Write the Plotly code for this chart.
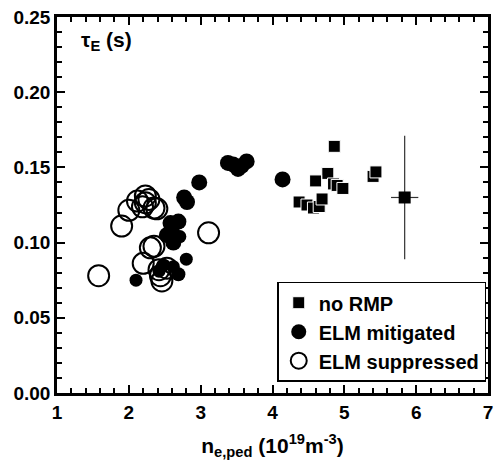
import plotly.graph_objects as go

# no RMP (squares)
sq_x = [4.86, 4.77, 4.60, 4.85, 4.90, 4.98, 4.37, 4.48, 4.57, 4.65, 4.69, 5.40, 5.44]
sq_y = [0.164, 0.146, 0.141, 0.139, 0.138, 0.136, 0.127, 0.125, 0.123, 0.124, 0.129, 0.144, 0.147]
# reference point with error bars
ref_x = [5.84]
ref_y = [0.130]
ref_ex = [0.19]
ref_ey = [0.041]
# ELM mitigated (filled circles)
fc_x = [3.38, 3.45, 3.52, 3.57, 3.64, 4.14, 2.98, 2.77, 2.81, 2.58, 2.69, 2.53, 2.62, 2.71, 2.60,
        2.80, 2.10, 2.69, 2.62, 2.49, 2.42]
fc_y = [0.153, 0.152, 0.149, 0.151, 0.154, 0.142, 0.140, 0.130, 0.127, 0.113, 0.114, 0.105, 0.100, 0.104, 0.110,
        0.089, 0.075, 0.079, 0.084, 0.085, 0.081]
fc_s = [16, 16, 16, 16, 16, 16, 16, 16, 16, 16, 16, 16, 16, 13, 16,
        13, 13, 14, 13, 13, 13]
# ELM suppressed (open circles)
oc_x = [1.58, 1.90, 2.00, 2.12, 2.23, 2.23, 2.28, 2.35, 2.39, 2.19, 2.30, 2.35, 2.20, 2.44, 2.46, 2.42, 2.53, 3.11]
oc_y = [0.078, 0.111, 0.1215, 0.1276, 0.131, 0.1265, 0.1287, 0.123, 0.1225, 0.1238, 0.0965, 0.0975, 0.0862, 0.0780,
        0.0745, 0.082, 0.083, 0.1065]

FONT = "Liberation Sans"

fig = go.Figure()
fig.add_trace(go.Scatter(x=fc_x, y=fc_y, mode="markers", name="ELM mitigated", legendrank=2,
                         legendgroup="b",
                         marker=dict(symbol="circle", size=fc_s, color="black", opacity=1, line=dict(width=0))))
fig.add_trace(go.Scatter(x=oc_x, y=oc_y, mode="markers", name="ELM suppressed", legendrank=3,
                         legendgroup="c",
                         marker=dict(symbol="circle-open", size=21, color="black", opacity=1,
                                     line=dict(width=2, color="black"))))
fig.add_trace(go.Scatter(x=sq_x, y=sq_y, mode="markers", name="no RMP", legendrank=1,
                         legendgroup="a",
                         marker=dict(symbol="square", size=12, color="black", opacity=1,
                                     line=dict(width=1, color="white"))))
fig.add_trace(go.Scatter(x=ref_x, y=ref_y, mode="markers", showlegend=False,
                         marker=dict(symbol="square", size=12, color="black"),
                         error_x=dict(type="data", array=ref_ex, width=0, thickness=1.2, color="#333"),
                         error_y=dict(type="data", array=ref_ey, width=0, thickness=1.2, color="#333")))

fig.add_annotation(x=1.3, y=0.234, xref="x", yref="y", xanchor="left", yanchor="middle", showarrow=False,
                   text="τ<sub>E</sub> (s)", font=dict(family=FONT, size=21, color="black", weight="bold"))

axis_common = dict(showline=True, linecolor="black", linewidth=2.5, mirror="allticks",
                   ticks="inside", ticklen=8, tickwidth=2, tickcolor="black",
                   showgrid=False, zeroline=False,
                   tickfont=dict(family=FONT, size=19, color="black", weight="bold"))

fig.update_xaxes(range=[1, 7], dtick=1, tick0=1,
                 minor=dict(dtick=0.2, ticks="inside", ticklen=5, tickwidth=1.5, tickcolor="black", showgrid=False),
                 title=dict(text="n<sub>e,ped</sub> (10<sup>19</sup>m<sup>-3</sup>)",
                            font=dict(family=FONT, size=21, color="black", weight="bold"), standoff=17),
                 **axis_common)
fig.update_yaxes(range=[0, 0.25], dtick=0.05, tickformat=".2f",
                 minor=dict(dtick=0.01, ticks="inside", ticklen=5, tickwidth=1.5, tickcolor="black", showgrid=False),
                 **axis_common)

fig.update_layout(
    width=498, height=464,
    margin=dict(l=57, r=5, t=17, b=71),
    plot_bgcolor="white", paper_bgcolor="white",
    showlegend=True,
    legend=dict(x=0.511, y=0.296, xanchor="left", yanchor="top",
                bordercolor="black", borderwidth=1.5, bgcolor="white",
                font=dict(family=FONT, size=20, color="black", weight="bold"),
                tracegroupgap=0, itemsizing="trace"),
)

fig.write_html("out.html")
